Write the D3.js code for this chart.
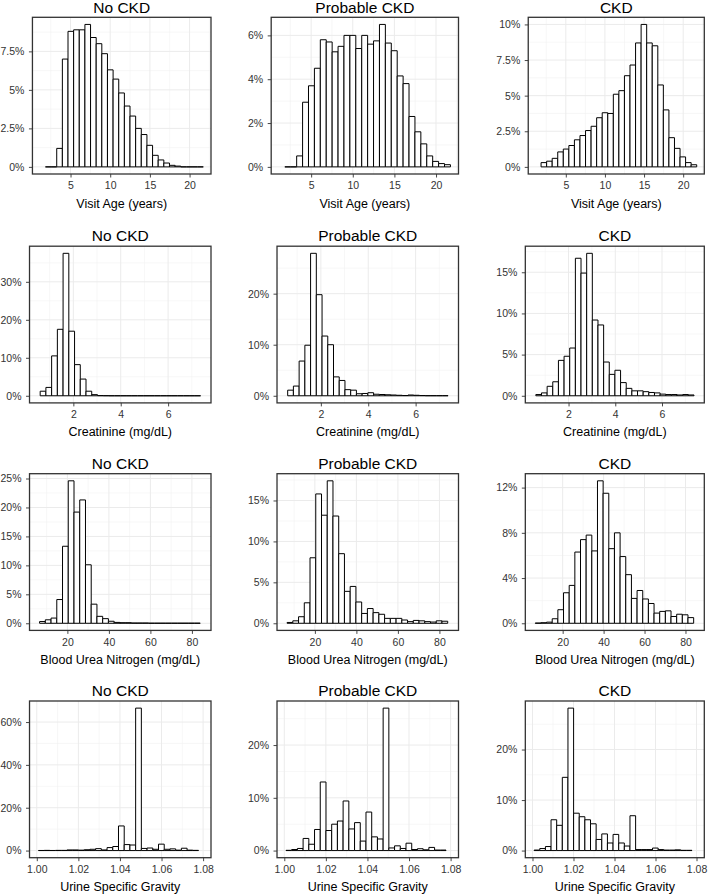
<!DOCTYPE html>
<html><head><meta charset="utf-8">
<script src="https://cdn.jsdelivr.net/npm/d3@7"></script>
<style>body{margin:0;background:#fff} svg text{font-family:"Liberation Sans",Arial,Helvetica,sans-serif;font-weight:normal}</style>
</head><body><svg id="c" width="709" height="896"></svg>
<script>
// ---------- data ----------
const groups = ["No CKD", "Probable CKD", "CKD"];
const variables = ["Visit Age (years)", "Creatinine (mg/dL)", "Blood Urea Nitrogen (mg/dL)", "Urine Specific Gravity"];
const binRanges = [[1.84, 21.73], [0.6, 7.37], [6.6, 84.0], [1.0008, 1.0778]];
const xDomains = [[0.2, 22.7], [0.15, 7.81], [1.75, 89.2], [0.9965, 1.0838]];
const xTicks = [[5, 10, 15, 20], [2, 4, 6], [20, 40, 60, 80], [1.00, 1.02, 1.04, 1.06, 1.08]];
const xTickLabels = [["5", "10", "15", "20"], ["2", "4", "6"], ["20", "40", "60", "80"], ["1.00", "1.02", "1.04", "1.06", "1.08"]];

const ageNoCKD = [0,0,1.2,7.0,8.8,8.9,8.9,9.25,8.4,8.0,7.35,6.3,5.7,4.8,3.95,3.3,2.5,2.1,1.4,0.75,0.45,0.25,0.1,0.05,0,0,0,0];
const ageProbable = [0,0,0.5,2.95,3.7,4.5,5.8,5.7,5.25,5.5,6.0,6.0,5.4,6.0,5.6,5.75,6.5,5.65,5.3,4.15,3.8,2.3,1.6,1.05,0.5,0.25,0.15,0.1];
const ageCKD = [0.3,0.4,0.6,1.05,1.25,1.5,1.9,2.2,2.55,2.85,3.45,3.8,3.75,5.1,5.35,6.4,7.15,8.7,10.0,8.7,8.5,5.75,4.0,2.05,1.3,0.7,0.3,0.15];

const creatNoCKD = [1.2,2.2,10.5,17.5,37.5,17.0,8.2,4.4,1.2,0.3,0.05,0.02,0,0,0,0,0,0,0,0,0,0,0,0,0,0,0,0];
const creatProbable = [1.1,1.9,6.8,9.9,27.9,19.8,11.7,10.0,3.7,3.0,1.2,1.1,0.4,0.45,0.6,0.3,0.25,0.2,0.15,0.1,0.05,0.15,0.1,0.05,0.02,0.02,0.02,0.02];
const creatCKD = [0.15,0.35,1.15,1.7,4.3,4.8,5.8,16.7,14.9,17.3,9.2,8.6,4.1,2.6,3.1,1.6,0.9,0.6,0.6,0.5,0.4,0.35,0.2,0.15,0.15,0.1,0.15,0.1];

const bunNoCKD = [0.3,0.6,0.9,4.1,13.3,24.6,19.2,21.3,10.1,3.3,1.2,0.8,0.35,0.15,0.1,0.1,0.05,0.05,0.05,0.02,0.02,0.02,0.02,0.02,0.02,0.02,0.02,0.02];
const bunProbable = [0.1,0.3,0.8,2.5,8.0,15.8,13.2,17.4,13.1,8.5,3.9,4.5,2.6,1.2,1.8,1.3,1.1,0.6,0.6,0.6,0.4,0.2,0.35,0.3,0.2,0.15,0.3,0.25];
const bunCKD = [0.02,0.05,0.1,0.4,1.2,2.7,3.35,6.3,7.4,7.8,6.4,12.6,11.5,6.6,8.0,5.9,4.3,2.2,2.9,2.15,1.75,0.9,1.05,1.1,0.6,0.8,0.75,0.5];

const usgNoCKD = [0.05,0.1,0.05,0.1,0.1,0.3,0.3,0.2,0.4,0.6,0.9,0.3,1.4,1.9,11.5,2.8,2.6,66.5,1.0,1.2,0.6,3.0,0.6,0.8,0.2,1.1,0.2,0.1];
const usgProbable = [0.05,0.2,0.4,2.3,1.2,4.0,13.0,3.8,5.0,5.6,9.4,4.1,5.3,1.8,7.3,2.6,2.2,27.0,0.5,0.9,0.4,1.4,0.2,0.35,0.15,0.6,0.1,0.1];
const usgCKD = [0.1,0.4,0.8,6.1,5.0,14.5,28.2,7.4,6.7,6.1,5.3,2.2,3.3,1.5,3.2,1.5,0.9,6.9,0.2,0.2,0.2,0.5,0.2,0.1,0.1,0.15,0.05,0.05];

const yTicksAge = [[0, 2.5, 5, 7.5], [0, 2, 4, 6], [0, 2.5, 5, 7.5, 10]];
const yTicksCreat = [[0, 10, 20, 30], [0, 10, 20], [0, 5, 10, 15]];
const yTicksBUN = [[0, 5, 10, 15, 20, 25], [0, 5, 10, 15], [0, 4, 8, 12]];
const yTicksUSG = [[0, 20, 40, 60], [0, 10, 20], [0, 10, 20]];

const valueRows = [[ageNoCKD, ageProbable, ageCKD], [creatNoCKD, creatProbable, creatCKD],
                   [bunNoCKD, bunProbable, bunCKD], [usgNoCKD, usgProbable, usgCKD]];
const yTickRows = [yTicksAge, yTicksCreat, yTicksBUN, yTicksUSG];

// ---------- layout ----------
const rowTop = [17.3, 246.2, 473.7, 701];
const panelH = 156.7;
const colRight = [211, 458.5, 704.3];
const labelStart = [0.5, 248, 496.3];
const tickFont = 10.5;

const svg = d3.select("#c");

function minorOf(major, dom) {
  const step = major[1] - major[0];
  const out = [];
  for (let v = major[0] - step / 2; v <= dom[1]; v += step) if (v >= dom[0]) out.push(v);
  return out;
}

for (let r = 0; r < 4; r++) {
  for (let c = 0; c < 3; c++) {
    const vals = valueRows[r][c];
    const yt = yTickRows[r][c];
    const ymax = d3.max(vals);
    const top = rowTop[r], bottom = top + panelH;
    const g = svg.append("g");
    const y = d3.scaleLinear().domain([-0.05 * ymax, 1.05 * ymax]).range([bottom, top]);

    // y axis first (to measure labels)
    const yAxisG = g.append("g")
      .call(d3.axisLeft(y).tickValues(yt).tickFormat(d => d + "%").tickSize(3.5).tickPadding(4.5));
    yAxisG.select(".domain").remove();
    yAxisG.attr("font-size", null).attr("font-family", null);
    yAxisG.selectAll("text").attr("font-size", tickFont).attr("fill", "#333");
    const maxW = d3.max(yAxisG.selectAll("text").nodes(), n => n.getComputedTextLength());
    const left = labelStart[c] + maxW + 8;
    const right = colRight[c];
    yAxisG.attr("transform", `translate(${left},0)`);
    yAxisG.selectAll("line").attr("stroke", "#333").attr("stroke-width", 0.9);

    const x = d3.scaleLinear().domain(xDomains[r]).range([left, right]);

    const grid = g.insert("g", ":first-child");
    grid.append("rect").attr("x", left).attr("y", top).attr("width", right - left).attr("height", panelH).attr("fill", "#fff");
    const ymin = minorOf(yt, y.domain()), xmin = minorOf(xTicks[r], x.domain());
    grid.selectAll(".ymn").data(ymin).join("line").attr("x1", left).attr("x2", right)
      .attr("y1", d => y(d)).attr("y2", d => y(d)).attr("stroke", "#f2f2f2").attr("stroke-width", 0.6);
    grid.selectAll(".xmn").data(xmin).join("line").attr("y1", top).attr("y2", bottom)
      .attr("x1", d => x(d)).attr("x2", d => x(d)).attr("stroke", "#f2f2f2").attr("stroke-width", 0.6);
    grid.selectAll(".ymj").data(yt).join("line").attr("x1", left).attr("x2", right)
      .attr("y1", d => y(d)).attr("y2", d => y(d)).attr("stroke", "#ebebeb").attr("stroke-width", 1);
    grid.selectAll(".xmj").data(xTicks[r]).join("line").attr("y1", top).attr("y2", bottom)
      .attr("x1", d => x(d)).attr("x2", d => x(d)).attr("stroke", "#ebebeb").attr("stroke-width", 1);

    // bars
    const [lo, hi] = binRanges[r];
    const w = (hi - lo) / vals.length;
    g.append("g").selectAll("path").data(vals).join("path")
      .attr("d", (v, i) => {
        const x0 = x(lo + i * w), x1 = x(lo + (i + 1) * w), y0 = y(0), y1 = y(v);
        return `M${x0},${y0}V${y1}H${x1}V${y0}Z`;
      })
      .attr("fill", "#fff").attr("stroke", "#000").attr("stroke-width", 1);

    // panel border
    g.append("rect").attr("x", left).attr("y", top).attr("width", right - left).attr("height", panelH)
      .attr("fill", "none").attr("stroke", "#333").attr("stroke-width", 1.3);

    // x axis
    const xAxisG = g.append("g").attr("transform", `translate(0,${bottom})`)
      .call(d3.axisBottom(x).tickValues(xTicks[r]).tickFormat((d, i) => xTickLabels[r][i]).tickSize(3.5).tickPadding(4.3));
    xAxisG.select(".domain").remove();
    xAxisG.attr("font-size", null).attr("font-family", null);
    xAxisG.selectAll("text").attr("font-size", tickFont).attr("fill", "#333");
    xAxisG.selectAll("line").attr("stroke", "#333").attr("stroke-width", 0.9);

    // titles
    g.append("text").attr("x", (left + right) / 2).attr("y", top - (r === 0 ? 4.3 : 5)).attr("text-anchor", "middle")
      .attr("font-size", 15.5).attr("fill", "#000").text(groups[c]);
    g.append("text").attr("x", (left + right) / 2).attr("y", bottom + 33.5).attr("text-anchor", "middle")
      .attr("font-size", 12.5).attr("fill", "#000").text(variables[r]);
  }
}
</script></body></html>
